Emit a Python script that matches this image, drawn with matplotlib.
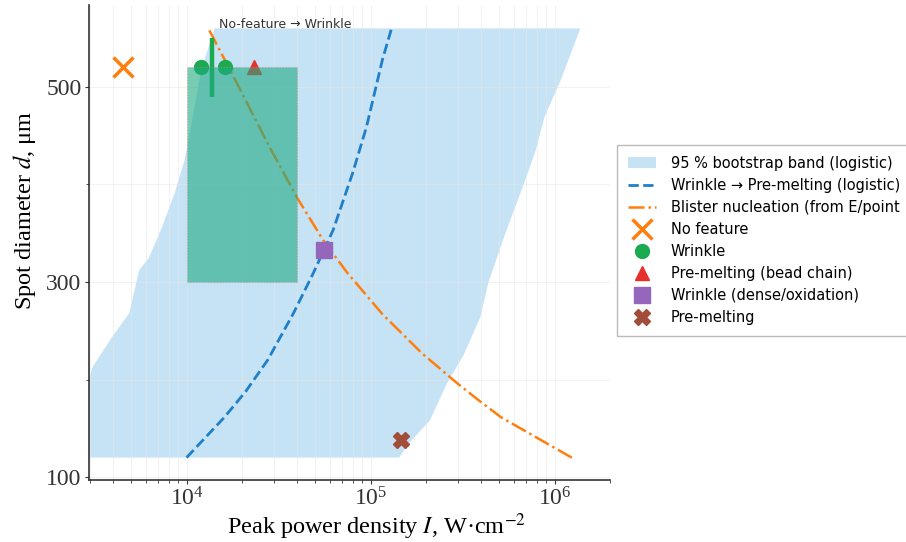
import matplotlib
matplotlib.use("Agg")
import matplotlib.pyplot as plt
from matplotlib.patches import Rectangle
from matplotlib.ticker import FixedLocator

# --- data ---
# 95 % bootstrap band: left edge and right edge (I, W/cm2) at spot diameter d (um)
band_d = [120, 213, 244, 268, 312, 325, 356, 391, 425, 446, 517, 560]
band_left = [2200, 3085, 3950, 4880, 5520, 6250, 7340, 8610, 9750, 1.025e4, 1.2e4, 1.42e4]
band_d_r = [120, 135, 158, 196, 225, 264, 299, 350, 397, 435, 469, 507, 560]
band_right = [1.43e5, 1.62e5, 2.1e5, 2.6e5, 3.2e5, 3.95e5, 4.36e5, 5.4e5, 6.7e5, 7.9e5, 8.8e5, 1.08e6, 1.38e6]

# logistic Wrinkle -> Pre-melting boundary
logit_I = [1.0e4, 1.6e4, 2.1e4, 2.76e4, 3.81e4, 4.88e4, 6.25e4, 8.0e4, 9.5e4, 1.16e5, 1.3e5]
logit_d = [120, 161, 188, 220, 268, 309, 353, 412, 459, 528, 560]

# blister nucleation curve (from E/point)
blister_I = [1.33e4, 1.75e4, 2.76e4, 4.0e4, 5.52e4, 7.43e4, 1.16e5, 1.9e5, 2.9e5, 3.85e5, 5.1e5, 1.25e6]
blister_d = [558, 515, 442, 386, 343, 310, 267, 227, 197.5, 179, 161.5, 119.5]

# experimental points
nofeat_I, nofeat_d = [4530], [520]
wrinkle_I, wrinkle_d = [1.2e4, 1.62e4], [520, 520]
bead_I, bead_d = [2.32e4], [520]
dense_I, dense_d = [5.58e4], [333]
premelt_I, premelt_d = [1.47e5], [138]

# No-feature -> Wrinkle marker line and region
nf_line_I = 1.38e4
nf_line_d = (490, 550)
region_I = (1.0e4, 4.0e4)
region_d = (300, 520)

# --- figure ---
plt.rcParams["mathtext.fontset"] = "stix"
serif = ["Liberation Serif", "DejaVu Serif"]

fig = plt.figure(figsize=(9.06, 5.42), dpi=100)
ax = fig.add_axes([89 / 906, 62 / 542, 521 / 906, 475 / 542])

# band drawn as a polygon: left edge upwards, right edge back down
poly_I = band_left + band_right[::-1]
poly_d = band_d + band_d_r[::-1]
ax.fill(poly_I, poly_d, color="#8cc9ed", alpha=0.5, lw=0, zorder=1,
        label="95 % bootstrap band (logistic)")

ax.plot(logit_I, logit_d, ls="--", color="#1f7fc8", lw=2, zorder=2,
        label="Wrinkle → Pre-melting (logistic)")
ax.plot(blister_I, blister_d, ls="-.", color="#ff7f0e", lw=1.8, zorder=2,
        label="Blister nucleation (from E/point")

ax.vlines(nf_line_I, nf_line_d[0], nf_line_d[1], color="#1aaa50", lw=3.2, zorder=3)

ax.plot(nofeat_I, nofeat_d, ls="none", marker="x", ms=14, mew=2.5,
        color="#ff7f0e", zorder=3, label="No feature")
ax.plot(wrinkle_I, wrinkle_d, ls="none", marker="o", ms=10,
        color="#1aaa50", zorder=3, label="Wrinkle")
ax.plot(bead_I, bead_d, ls="none", marker="^", ms=10,
        color="#e8302a", zorder=3, label="Pre-melting (bead chain)")
ax.plot(dense_I, dense_d, ls="none", marker="s", ms=11,
        color="#9467bd", zorder=3, label="Wrinkle (dense/oxidation)")
ax.plot(premelt_I, premelt_d, ls="none", marker="X", ms=11,
        color="#a24c3a", zorder=3, label="Pre-melting")

rect = Rectangle((region_I[0], region_d[0]), region_I[1] - region_I[0],
                 region_d[1] - region_d[0], facecolor="#1eaa82", alpha=0.6,
                 edgecolor="#e08080", ls=":", lw=0.8, zorder=4)
ax.add_patch(rect)

ax.text(1.5e4, 564, "No-feature → Wrinkle", fontsize=9, color="#333333",
        ha="left", va="center", family="DejaVu Sans", zorder=5)

ax.set_xscale("log")
ax.set_xlim(2.95e3, 2.0e6)
ax.set_ylim(97, 584)
ax.yaxis.set_major_locator(FixedLocator([100, 300, 500]))
ax.yaxis.set_minor_locator(FixedLocator([200, 400]))

ax.grid(True, which="both", color="#e6e6e6", lw=0.5, alpha=0.7)
ax.spines["top"].set_visible(False)
ax.spines["right"].set_visible(False)
for s in ("left", "bottom"):
    ax.spines[s].set_color("#333333")
    ax.spines[s].set_linewidth(1.2)
ax.tick_params(which="major", direction="out", length=3, pad=2.5,
               labelsize=17, colors="#333333")
ax.tick_params(which="minor", direction="out", length=2, colors="#333333")
for lab in ax.get_xticklabels() + ax.get_yticklabels():
    lab.set_family(serif)

ax.set_xlabel(r"Peak power density $I$, W·cm$^{-2}$", fontsize=17.5, family=serif)
ax.set_ylabel(r"Spot diameter $d$, μm", fontsize=17.5, family=serif)
ax.xaxis.set_label_coords(0.551, -0.067)
ax.yaxis.set_label_coords(-0.098, 0.568)

ax.legend(loc="center left", bbox_to_anchor=(1.0, 0.505),
          prop={"family": "DejaVu Sans", "size": 10.5}, labelspacing=0.48,
          borderpad=0.75, handletextpad=1.0, handlelength=1.9,
          fancybox=False, edgecolor="#bbbbbb", framealpha=1)

fig.savefig("out.png", dpi=100)
